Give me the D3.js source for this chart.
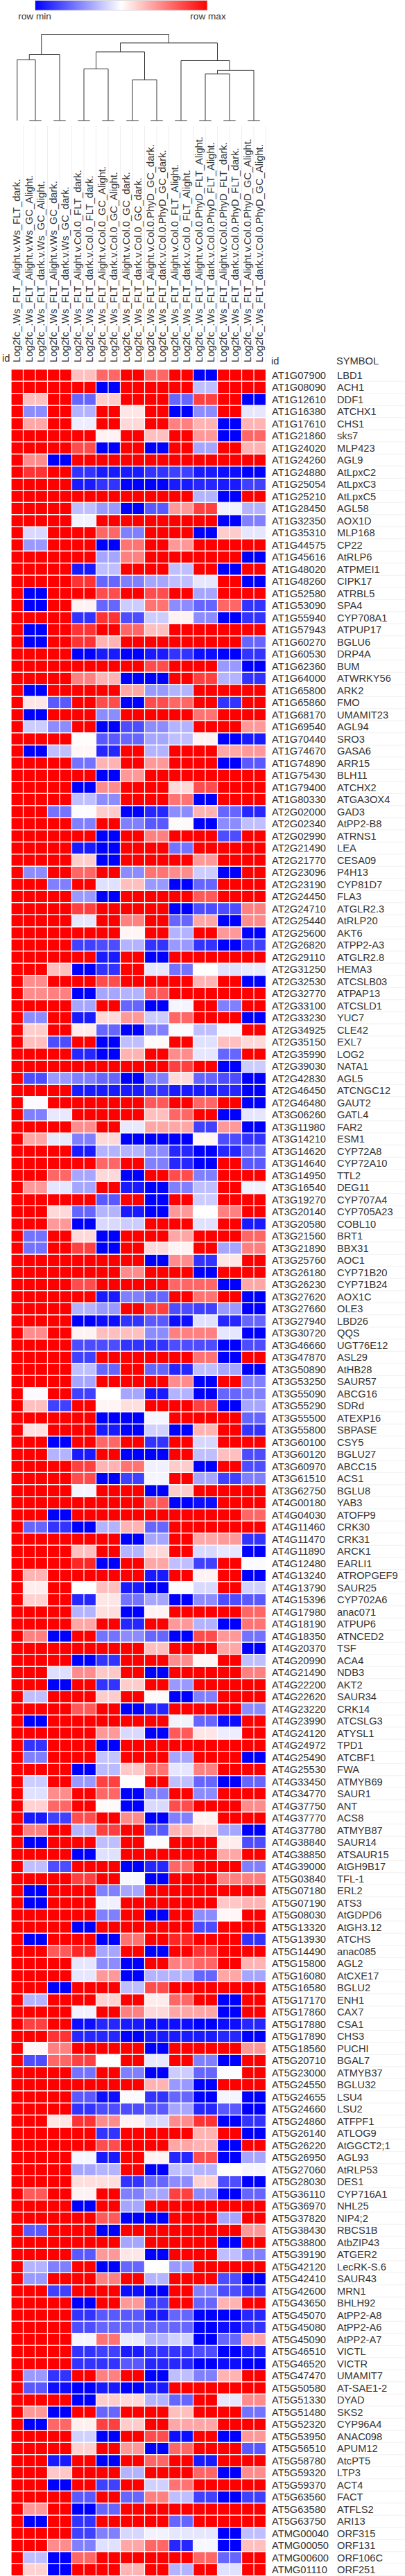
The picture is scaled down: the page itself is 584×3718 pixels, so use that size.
<!DOCTYPE html>
<html><head><meta charset="utf-8">
<script src="https://cdn.jsdelivr.net/npm/d3@7"></script>
<style>html,body{margin:0;padding:0;background:#fff;overflow:hidden}svg{display:block}text{font-family:"Liberation Sans",Arial,sans-serif;fill:#333}</style>
</head><body><div id="chart"></div>
<script>
// Column order as displayed. Column 0 stands alone; the others come in near-identical pairs.
const columnPrefix = "Log2fc_.Ws_";
const columnLabels = [
"FLT_Alight.v.Ws_FLT_dark.","FLT_Alight.v.Ws_GC_Alight.","FLT_dark.v.Ws_GC_Alight.","FLT_Alight.v.Ws_GC_dark.","FLT_dark.v.Ws_GC_dark.",
"FLT_Alight.v.Col.0_FLT_dark.","FLT_dark.v.Col.0_FLT_dark.","FLT_Alight.v.Col.0_GC_Alight.","FLT_dark.v.Col.0_GC_Alight.",
"FLT_Alight.v.Col.0_GC_dark.","FLT_dark.v.Col.0_GC_dark.","FLT_Alight.v.Col.0.PhyD_GC_dark.","FLT_dark.v.Col.0.PhyD_GC_dark.",
"FLT_Alight.v.Col.0_FLT_Alight.","FLT_dark.v.Col.0_FLT_Alight.","FLT_Alight.v.Col.0.PhyD_FLT_Alight.","FLT_dark.v.Col.0.PhyD_FLT_Alight.",
"FLT_Alight.v.Col.0.PhyD_FLT_dark.","FLT_dark.v.Col.0.PhyD_FLT_dark.","FLT_Alight.v.Col.0.PhyD_GC_Alight.","FLT_dark.v.Col.0.PhyD_GC_Alight."];

const geneIds = ["AT1G07900","AT1G08090","AT1G12610","AT1G16380","AT1G17610","AT1G21860","AT1G24020","AT1G24260","AT1G24880","AT1G25054","AT1G25210","AT1G28450","AT1G32350","AT1G35310","AT1G44575","AT1G45616","AT1G48020","AT1G48260","AT1G52580","AT1G53090","AT1G55940",
"AT1G57943","AT1G60270","AT1G60530","AT1G62360","AT1G64000","AT1G65800","AT1G65860","AT1G68170","AT1G69540","AT1G70440","AT1G74670","AT1G74890","AT1G75430","AT1G79400","AT1G80330","AT2G02000","AT2G02340","AT2G02990","AT2G21490","AT2G21770",
"AT2G23096","AT2G23190","AT2G24450","AT2G24710","AT2G25440","AT2G25600","AT2G26820","AT2G29110","AT2G31250","AT2G32530","AT2G32770","AT2G33100","AT2G33230","AT2G34925","AT2G35150","AT2G35990","AT2G39030","AT2G42830","AT2G46450","AT2G46480",
"AT3G06260","AT3G11980","AT3G14210","AT3G14620","AT3G14640","AT3G14950","AT3G16540","AT3G19270","AT3G20140","AT3G20580","AT3G21560","AT3G21890","AT3G25760","AT3G26180","AT3G26230","AT3G27620","AT3G27660","AT3G27940","AT3G30720","AT3G46660",
"AT3G47870","AT3G50890","AT3G53250","AT3G55090","AT3G55290","AT3G55500","AT3G55800","AT3G60100","AT3G60120","AT3G60970","AT3G61510","AT3G62750","AT4G00180","AT4G04030","AT4G11460","AT4G11470","AT4G11890","AT4G12480","AT4G13240","AT4G13790",
"AT4G15396","AT4G17980","AT4G18190","AT4G18350","AT4G20370","AT4G20990","AT4G21490","AT4G22200","AT4G22620","AT4G23220","AT4G23990","AT4G24120","AT4G24972","AT4G25490","AT4G25530","AT4G33450","AT4G34770","AT4G37750","AT4G37770","AT4G37780",
"AT4G38840","AT4G38850","AT4G39000","AT5G03840","AT5G07180","AT5G07190","AT5G08030","AT5G13320","AT5G13930","AT5G14490","AT5G15800","AT5G16080","AT5G16580","AT5G17170","AT5G17860","AT5G17880","AT5G17890","AT5G18560","AT5G20710","AT5G23000",
"AT5G24550","AT5G24655","AT5G24660","AT5G24860","AT5G26140","AT5G26220","AT5G26950","AT5G27060","AT5G28030","AT5G36110","AT5G36970","AT5G37820","AT5G38430","AT5G38800","AT5G39190","AT5G42120","AT5G42410","AT5G42600","AT5G43650","AT5G45070","AT5G45080",
"AT5G45090","AT5G46510","AT5G46520","AT5G47470","AT5G50580","AT5G51330","AT5G51480","AT5G52320","AT5G53950","AT5G56510","AT5G58780","AT5G59320","AT5G59370","AT5G63560","AT5G63580","AT5G63750","ATMG00040","ATMG00050","ATMG00600","ATMG01110"];

const geneSymbols = ["LBD1","ACH1","DDF1","ATCHX1","CHS1","sks7","MLP423","AGL9","AtLpxC2","AtLpxC3","AtLpxC5","AGL58","AOX1D","MLP168","CP22","AtRLP6","ATPMEI1","CIPK17","ATRBL5","SPA4","CYP708A1",
"ATPUP17","BGLU6","DRP4A","BUM","ATWRKY56","ARK2","FMO","UMAMIT23","AGL94","SRO3","GASA6","ARR15","BLH11","ATCHX2","ATGA3OX4","GAD3","AtPP2-B8","ATRNS1","LEA","CESA09",
"P4H13","CYP81D7","FLA3","ATGLR2.3","AtRLP20","AKT6","ATPP2-A3","ATGLR2.8","HEMA3","ATCSLB03","ATPAP13","ATCSLD1","YUC7","CLE42","EXL7","LOG2","NATA1","AGL5","ATCNGC12","GAUT2",
"GATL4","FAR2","ESM1","CYP72A8","CYP72A10","TTL2","DEG11","CYP707A4","CYP705A23","COBL10","BRT1","BBX31","AOC1","CYP71B20","CYP71B24","AOX1C","OLE3","LBD26","QQS","UGT76E12",
"ASL29","AtHB28","SAUR57","ABCG16","SDRd","ATEXP16","SBPASE","CSY5","BGLU27","ABCC15","ACS1","BGLU8","YAB3","ATOFP9","CRK30","CRK31","ARCK1","EARLI1","ATROPGEF9","SAUR25",
"CYP702A6","anac071","ATPUP6","ATNCED2","TSF","ACA4","NDB3","AKT2","SAUR34","CRK14","ATCSLG3","ATYSL1","TPD1","ATCBF1","FWA","ATMYB69","SAUR1","ANT","ACS8","ATMYB87",
"SAUR14","ATSAUR15","AtGH9B17","TFL-1","ERL2","ATS3","AtGDPD6","AtGH3.12","ATCHS","anac085","AGL2","AtCXE17","BGLU2","ENH1","CAX7","CSA1","CHS3","PUCHI","BGAL7","ATMYB37",
"BGLU32","LSU4","LSU2","ATFPF1","ATLOG9","AtGGCT2;1","AGL93","AtRLP53","DES1","CYP716A1","NHL25","NIP4;2","RBCS1B","AtbZIP43","ATGER2","LecRK-S.6","SAUR43","MRN1","BHLH92","AtPP2-A8","AtPP2-A6",
"AtPP2-A7","VICTL","VICTR","UMAMIT7","AT-SAE1-2","DYAD","SKS2","CYP96A4","ANAC098","APUM12","AtcPT5","LTP3","ACT4","FACT","ATFLS2","ARI13","ORF315","ORF131","ORF106C","ORF251"];

// Row-scaled value, -10 (row min) .. 10 (row max): [col 0, pair 1-2, 3-4, 5-6, 7-8, 9-10, 11-12, 13-14, 15-16, 17-18, 19-20]
const rowValues = [
[10,10,10,2.5,6,10,6,10,-10,10,10],
[10,10,10,10,-10,10,10,10,-2.5,10,10],
[10,2.5,10,-6,2,10,10,-6,7.5,10,-10],
[10,-4.5,10,-3,10,1,10,-10,-4.5,10,-1],
[10,3.5,10,-0.7,10,1.5,10,5,3,-10,3],
[10,10,10,10,0.5,10,2.5,10,4,-10,6],
[10,10,10,7,-10,10,-10,10,-3.5,10,3],
[10,4.5,-10,10,10,10,10,10,10,10,10],
[10,8,10,-8,-9,-9,-8,-7.5,-9,-9.5,-10],
[10,10,10,-9,-8,-10,-10,-9,-8.5,-9,-7.5],
[10,10,10,10,10,10,10,10,-3,-10,10],
[10,10,10,-2.5,-4,-10,-6.5,4,7.5,-0.5,-3],
[10,10,10,-0.5,10,10,10,10,10,-10,-5],
[10,-1.5,10,10,6,-5,10,10,-10,2,-1],
[10,-4,10,10,-10,5.5,10,4,10,10,10],
[10,10,10,10,-3.5,5,10,10,10,10,-10],
[10,10,10,-9,-2.5,10,10,-2.5,10,-10,10],
[10,10,10,8,-6,-5,-3.5,-2.5,-1,10,-10],
[10,-10,10,10,7,10,7,10,-3.5,10,10],
[10,-10,10,0.5,-6,-2,5.5,-4.5,-6,6,-8],
[10,10,10,-8,8,-7,-2,0.5,-4.5,-10,-8],
[10,-10,10,8,10,6,2.5,10,10,10,10],
[10,-10,10,8,3,10,10,10,10,10,-6],
[10,10,10,-10,-9,-10,-9,-8,-9.5,-10,-8],
[10,10,10,10,10,10,7,10,10,-4,-10],
[10,10,10,5,3,-10,-10,10,7.5,-3,-8],
[10,-10,10,10,10,3.5,-4,-3,10,10,10],
[10,1,-6.5,10,7,-10,7,6,10,-8,10],
[10,-10,10,10,-4.5,10,10,10,5.5,10,10],
[10,-2,-4.5,10,-10,-7,-4.5,-3,10,10,4],
[10,10,10,0.1,-6.5,-6,-3.5,-2.5,0.5,-10,-9],
[10,-10,-2.5,0.3,-8.5,10,-3,10,10,3.5,4],
[10,10,10,-5.5,3,10,4,10,10,-10,-6.5],
[10,10,10,10,-10,4,10,10,10,10,10],
[10,10,10,-10,4.5,10,10,1.5,7,10,10],
[10,10,10,-2.5,-4.5,10,10,5.5,-10,10,10],
[10,10,-5.5,-0.1,2,-10,-8.5,-4.5,3,-6,-8.5],
[10,10,10,-5,10,-5,-6.5,0.2,-10,-4.5,-2.5],
[10,10,10,10,-10,10,5,10,10,-7,10],
[10,10,10,-9,-10,10,10,-5.5,10,10,10],
[10,10,10,2,-10,10,10,10,4,10,10],
[10,-4.5,10,6,10,-4.5,5.5,4.5,-2,-10,10],
[10,10,-5,10,-1.2,2.5,-4,-10,-6,10,10],
[10,10,10,-4,-10,10,10,10,6.5,10,10],
[10,10,10,7.5,10,10,10,-10,-7,-7,5],
[10,10,10,-1,10,5,10,-6,3.5,-10,4.5],
[10,10,10,10,10,0.4,10,-3,10,4,-10],
[10,10,10,-7.5,-7,-3,-8,-4,-8,-10,-7.5],
[10,10,10,10,-9,10,-10,10,10,10,10],
[10,10,2.5,-10,-8,10,-1,-5.5,0,-1.2,-0.8],
[10,4.5,10,10,7,10,10,10,3,10,-10],
[10,4.5,5,-10,-3.5,-3,6.5,10,10,10,10],
[10,10,10,-3.5,10,-6,-10,-0.4,10,-5,10],
[10,-4.5,10,-9,1.5,4,-2,6,10,10,-10],
[10,2,10,0.8,-6,-10,-5,-0.2,-2.5,-0.4,10],
[10,2.5,-7,10,-10,-2.5,0.2,10,-1.2,2.5,1.5],
[10,10,10,-8.5,-10,3,10,4.5,-1,-6,10],
[10,10,10,10,10,10,10,7.5,10,-10,-2],
[10,-7,-4,-5,-6,-10,-5,1.5,-6,-7,-10],
[10,10,10,-9,-9,-9,-8,-9,-9,-8.5,-10],
[10,-0.2,10,10,10,10,6.5,10,6,10,-10],
[10,-5,-0.9,10,10,10,2.5,6,10,-10,-1],
[10,10,10,4.5,10,-0.9,3.5,3.5,-7.5,4,-10],
[10,3.5,-0.9,-5,1.5,-10,-10,-10,0.4,-7,-8],
[10,10,10,-9,-3,-3,-4.5,-8.5,-10,-8.5,-6],
[10,10,10,10,6,10,-5,-8.5,-10,10,-6.5],
[10,10,6,-3.5,1.5,-10,10,7,-5,10,10],
[10,4,-1,-3.5,10,-9,-10,-5,-2.5,10,-0.6],
[10,10,10,10,-6.5,10,-10,10,-2,10,10],
[10,10,1.5,-6,-3,-9,-10,4,0,5,10],
[10,10,4,-10,-1.5,-2,10,10,-1.2,10,-9],
[10,-5.5,10,1.5,-10,10,10,3.5,10,10,6],
[10,-5.5,10,7.5,-10,10,1.5,0.5,10,-3.5,5],
[10,10,10,10,10,10,-10,4.5,-8,1,10],
[10,10,10,10,10,4.5,10,10,-10,10,10],
[10,10,10,7,10,10,10,6,6,-10,3.5],
[10,10,10,10,-9,-5,-6,10,5.5,10,-10],
[10,10,10,-3,-4,10,7.5,-7,-7.5,-4,-10],
[10,10,10,-10,-9.5,-8,-6.5,-9.5,-1.2,-8.5,-6],
[10,4.5,10,0.5,2.5,2.5,-4.5,5,5,-1,-10],
[10,10,10,-7,-7,-8,-8,-7,-7,-10,-7],
[10,10,10,-7.5,10,10,10,10,5.5,-10,10],
[10,10,10,-2.5,-6,10,-6,-8.5,-2.5,-3.5,-10],
[10,10,10,-3.5,10,10,10,4.5,-10,10,-5],
[10,-0.2,10,-7.5,0,-3.5,-9,-3,-10,-6,-5],
[10,2.5,-7.5,10,0.4,1.3,10,10,7.5,-10,-3.5],
[10,10,10,10,-10,-10,-0.4,10,10,10,-6],
[10,1.2,10,10,-9,-10,-1.8,-10,3,10,-8],
[10,10,-10,10,6,10,-8,10,-1.6,10,10],
[10,10,-3,-9,10,-10,-10,10,-2.5,2.5,-7],
[10,10,10,7.5,3,5.5,-0.6,2,-10,10,-7],
[10,10,10,7,-10,-7.5,-0.4,10,-3.5,-7.5,-5],
[10,10,10,-0.4,10,10,-10,2,10,10,10],
[10,10,10,10,10,10,6.5,-10,-9.5,10,10],
[10,10,-10,10,10,10,10,10,10,10,6],
[10,-6,-8,-10,-3,3,-6,10,10,10,10],
[10,10,10,10,10,-10,-3.5,10,3.5,4,-8],
[10,10,10,2.5,10,-3,1.5,10,-1.5,-1,-10],
[10,10,10,8.5,-10,10,3.5,-2.5,-7.5,10,-0.2],
[10,3,10,10,10,10,-9,10,0.5,10,-10],
[10,0.7,10,0,2.5,-9,-10,-0.1,-1.5,10,-1.8],
[10,1.8,10,-8.5,1,-5.5,-3.5,-10,-4.5,-7,-6.5],
[10,10,10,-3,1.3,-10,0.5,10,10,10,6],
[10,10,10,3.5,10,-8.5,10,4,-3,-10,5.5],
[10,5,-10,10,-5.5,-4.5,-6,-10,7,4,-5.5],
[10,10,10,10,10,10,2.5,10,10,3.5,-10],
[10,10,10,-10,-8,10,10,4.5,0.4,10,-2.5],
[10,10,-1.3,4.5,2.2,10,-10,10,10,10,5],
[10,10,-10,10,-8,2,10,-4,10,10,10],
[10,-2.5,10,10,2,10,0.2,-10,-5,10,10],
[10,10,10,6.5,10,-10,-8.5,10,10,10,-4.5],
[10,-10,10,10,10,10,10,-0.5,-6,-9.5,10],
[10,10,10,10,4,-1.5,-10,6.5,1,-0.7,10],
[10,-8,10,10,-10,10,10,10,10,10,10],
[10,-5,10,10,-2.3,10,10,-3.5,10,10,-10],
[10,10,10,-10,-2.7,2.2,5.5,-1,5,10,10],
[10,-2,10,-4,7.5,0.1,10,-2.5,-6,-10,-6],
[10,-1.2,4.5,10,6,-10,-5,10,-4.5,10,10],
[10,1.8,6,10,0.2,-10,-1.5,7,10,10,4.5],
[10,-9,-7.5,7,10,4.5,-10,-5,0.5,10,10],
[10,5,10,-3,7.5,10,-6.5,3,1.8,-3.5,-10],
[10,-10,10,10,-2.5,10,-0.2,10,10,0.7,-7],
[10,10,10,-10,-1.2,10,10,10,10,3.5,10],
[10,-2.5,-7,10,10,-10,-8.5,6,10,10,-5],
[10,10,10,7.5,10,-0.3,-10,10,10,5,5],
[10,-10,10,10,-5,-3.5,10,10,10,10,10],
[10,-10,10,10,-0.6,10,10,10,10,2.2,3],
[10,10,10,10,-5,10,-10,10,-4.5,0.3,10],
[10,10,10,-10,10,10,10,10,-7,10,10],
[10,-10,10,10,-10,5.5,10,8.5,10,10,-8],
[10,10,6.5,8.5,-3.5,10,-10,10,8,10,10],
[10,10,10,-1,-4.5,-10,10,5,6,10,3],
[10,10,10,-1,4,-10,-3,-3,-6,3.5,-3.5],
[10,10,-10,10,10,-2.5,7,10,10,10,10],
[10,-3,10,10,1.8,10,0.8,6,10,-10,10],
[10,10,10,-0.5,10,5,1.5,3.5,3.5,-10,10],
[10,7.5,10,-9.5,-8.5,-9,-9.5,-9.5,-10,-9.5,-8.5],
[10,10,8,-8.5,-8.5,-10,-9,-9,-9,-8.5,-10],
[10,0.3,5,10,10,10,-10,10,10,10,4],
[10,-7,6,7.5,0,10,-0.9,10,-5,-10,10],
[10,10,10,-5.5,10,-5,-10,-2,-6,-0.1,10],
[10,10,10,10,10,10,3,-4,-10,10,10],
[10,10,10,-6.5,-9.5,-0.2,-8,-6,-10,-0.4,-10],
[10,10,10,-8,-7,-7,-6.5,-3.5,-8.5,-6.5,-10],
[10,10,1,8,4.5,0.5,-1.5,4.5,8,-10,-8],
[10,10,10,10,-8,10,10,10,3,10,-10],
[10,10,10,10,7,10,10,3.5,3,-10,10],
[10,10,10,-0.4,-9,10,0.5,-8.5,7,-10,-3.5],
[10,10,10,-3.5,-3,10,-10,-2.5,-3,0.1,-0.4],
[10,10,10,1.3,1.3,-8,-6,-4.5,1.8,-7,-10],
[10,6.5,10,0.5,10,-5,-3.5,7.5,-4.5,-10,-6],
[10,10,10,-10,10,-3.5,10,10,10,10,10],
[10,10,10,10,6.5,-10,-10,10,10,-3.5,10],
[10,-6.5,10,10,-10,10,10,10,10,10,4],
[10,10,10,10,10,-3.5,10,10,10,-10,10],
[10,10,10,-6.5,4,1,-10,10,10,-2.5,-5],
[10,-3,-5,10,-10,-6,0,-4,10,10,10],
[10,-4,10,10,5,10,-3,10,10,-7,-10],
[10,10,-7.5,10,10,-9.5,-10,10,-5,-7,-8],
[10,10,10,-10,10,4,-7.5,10,-6,3,10],
[10,10,10,-8,-6.5,-6.5,-9,-6,-10,-10,-8.5],
[10,10,10,-7,-6,-6,-6,-6,-10,-9.5,-8],
[10,10,10,-0.4,5.5,-0.8,-3,-1.8,-10,-6,3.5],
[10,10,10,-8,-7.5,-9,-8,-8,-7,-10,-9],
[10,10,10,-8,-8,-6.5,-8.5,-8.5,-10,-9.5,-10],
[10,-4,-8,10,5,10,-10,-2.5,-5,3,10],
[10,-6.5,-9.5,-10,-9,-10,-9,10,10,10,10],
[10,10,10,-10,2,1.5,-3,-6,10,-1,4.5],
[10,4,-10,10,-6,10,10,2.5,10,10,-5.5],
[10,-10,6,0.6,7.5,2,10,3.5,3.5,10,10],
[10,10,10,-1.8,-10,10,7,-9.5,10,-10,4],
[10,10,10,1.8,10,4,-10,6,10,10,-6.5],
[10,10,-9,10,-10,10,6,10,-9,10,10],
[10,10,2.2,10,10,-3,10,10,6,-10,4.5],
[10,10,-10,10,-7.5,10,-1.8,5.5,10,10,10],
[10,10,10,-6.5,10,-6,5,-2.5,-7.5,-10,-7.5],
[10,4,10,-10,-6,10,10,10,10,10,10],
[10,-10,10,-8,10,10,10,-6,10,10,10],
[10,10,10,-7.5,-5,-1.6,-0.5,-1,-1,-10,-2.5],
[10,10,4.5,-5,-1.2,3.5,6,-8.5,-0.3,-10,2.5],
[10,-2.5,-10,6,10,10,10,10,6,-6,10],
[10,1.8,-10,10,10,3,10,-3,10,-1.2,10]];

// Dendrogram: distance; a node's x is the mean of its leaves.
const pair = (a, b) => ({h: 0, children: [{leaf: a}, {leaf: b}]});
const dendrogram = {h: 1, children: [
  {h: .767, children: [
    {h: .706, children: [{leaf: 0}, pair(1, 2)]},
    pair(3, 4)]},
  {h: .9, children: [
    {h: .796, children: [
      {h: .599, children: [pair(5, 6), pair(7, 8)]},
      {h: .473, children: [pair(9, 10), pair(11, 12)]}]},
    {h: .695, children: [
      pair(13, 14),
      {h: .583, children: [
        {h: .54, children: [pair(15, 16), pair(17, 18)]},
        pair(19, 20)]}]}]}]};

const legendLabels = ["row min", "row max"];
const idHeader = "id", symbolHeader = "SYMBOL";

// ---- layout ----
if (geneIds.length !== rowValues.length || geneSymbols.length !== rowValues.length) throw new Error("row count mismatch");
rowValues.forEach((r, i) => { if (r.length !== 11) throw new Error("row " + i + " has " + r.length); });

const width = 584, height = 3718, step = 17.5, gridLeft = 16, gridTop = 532.75;
const svg = d3.select("#chart").append("svg").attr("width", width).attr("height", height).attr("viewBox", [0, 0, width, height]);
const color = d3.scaleLinear().domain([-10, 0, 10]).range(["#0000ff", "#ffffff", "#ff0000"]);
const x = d3.scaleBand().domain(d3.range(columnLabels.length)).range([gridLeft, gridLeft + step * columnLabels.length]).paddingInner(1.25 / step).paddingOuter(.6 / step);
const y = d3.scaleBand().domain(d3.range(geneIds.length)).range([gridTop, gridTop + step * geneIds.length]).paddingInner(1.5 / step).paddingOuter(.75 / step);
const cx = i => gridLeft + step * (i + .5);

// legend
const defs = svg.append("defs");
const grad = defs.append("linearGradient").attr("id", "lg");
color.domain().forEach(v => grad.append("stop").attr("offset", (v + 10) / 20).attr("stop-color", color(v)));
svg.append("rect").attr("x", 50.5).attr("y", .5).attr("width", 248.5).attr("height", 14.5).attr("fill", "url(#lg)").attr("stroke", "#ddd");
svg.selectAll("text.leg").data(legendLabels).join("text").attr("class", "leg").attr("x", (d, i) => i ? 300 : 50).attr("y", 28).attr("text-anchor", "middle").style("font-size", "13.6px").text(d => d);

// dendrogram
const root = d3.hierarchy(dendrogram);
const dy = d3.scaleLinear().domain([0, 1]).range([174, 49.5]);
root.eachAfter(n => { n.px = n.children ? d3.mean(n.leaves(), l => cx(l.data.leaf)) : cx(n.data.leaf);
                      n.py = n.children ? dy(n.data.h) : dy(0); });
const seg = [];
root.descendants().forEach(n => {
  if (n.children) seg.push([[d3.min(n.children, c => c.px), n.py], [d3.max(n.children, c => c.px), n.py]]);
  if (n.parent && n.py !== n.parent.py) seg.push([[n.px, n.parent.py], [n.px, n.py]]);
});
svg.append("g").attr("fill", "none").attr("stroke", "#333").attr("stroke-width", 1)
  .selectAll("path").data(seg).join("path").attr("d", d3.line());

// column separators & labels
svg.append("g").attr("stroke", "#eeeeee").selectAll("line").data(d3.range(1, columnLabels.length + 1)).join("line")
  .attr("x1", k => gridLeft + step * k).attr("x2", k => gridLeft + step * k).attr("y1", 182).attr("y2", 523.5);
svg.append("g").selectAll("text").data(columnLabels).join("text")
  .attr("transform", (d, i) => `translate(${cx(i) + 4.5},523) rotate(-90)`)
  .style("font-size", "14.67px").text(d => columnPrefix + d);

// headers
svg.append("text").attr("x", 3).attr("y", 522).style("font-size", "14.67px").text(idHeader);
svg.append("text").attr("x", 391).attr("y", 525.5).style("font-size", "14.67px").text(idHeader);
svg.append("text").attr("x", 485).attr("y", 525.5).style("font-size", "14.67px").text(symbolHeader);

// cells
const rows = svg.append("g").selectAll("g").data(rowValues).join("g").attr("transform", (d, i) => `translate(0,${y(i)})`);
rows.selectAll("rect").data(r => {
  const all = [r[0]];
  r.slice(1).forEach(v => all.push(v, v));
  return all;
}).join("rect").attr("x", (d, i) => x(i)).attr("width", x.bandwidth()).attr("height", y.bandwidth()).attr("fill", d => color(d));

// row labels
rows.append("text").attr("x", 392).attr("y", 13.2).style("font-size", "14.67px").text((d, i) => geneIds[i]);
rows.append("text").attr("x", 486).attr("y", 13.2).style("font-size", "14.67px").text((d, i) => geneSymbols[i]);
rows.append("line").attr("x1", 484.5).attr("x2", width).attr("y1", y.bandwidth() + .75).attr("y2", y.bandwidth() + .75).attr("stroke", "#f0f0f0");
</script></body></html>
